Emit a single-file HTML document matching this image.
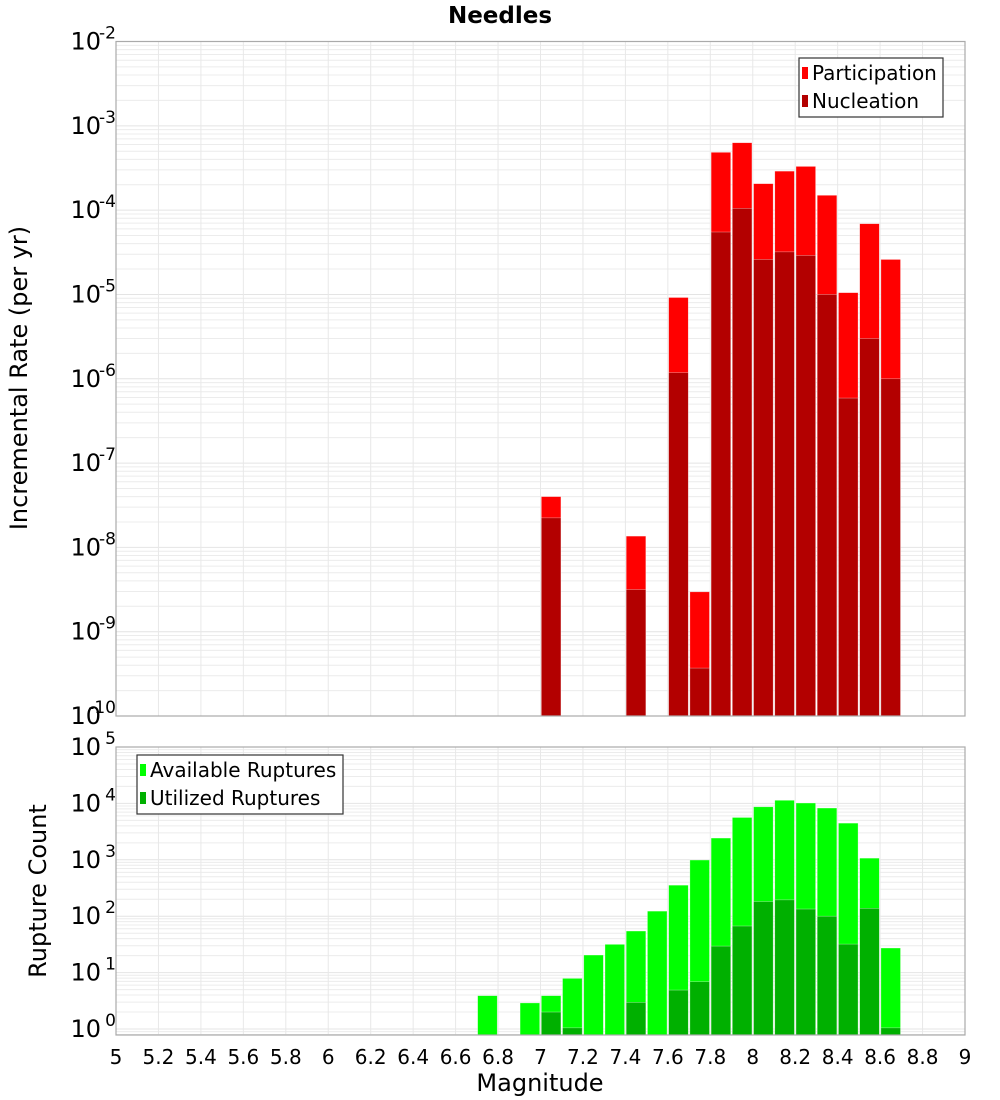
<!DOCTYPE html>
<html><head><meta charset="utf-8"><style>
body{margin:0;background:#fff}
svg{display:block;font-family:"DejaVu Sans","Liberation Sans",sans-serif}
</style></head><body>
<svg id="c" width="1000" height="1100" xmlns="http://www.w3.org/2000/svg">
<text x="500" y="23" text-anchor="middle" font-weight="bold" font-size="23">Needles</text>
</svg>
<script>
const bins=[7.05,7.45,7.65,7.75,7.85,7.95,8.05,8.15,8.25,8.35,8.45,8.55,8.65];
const participation=[4e-8,1.36e-8,9.2e-6,2.97e-9,4.85e-4,6.3e-4,2.06e-4,2.9e-4,3.3e-4,1.5e-4,1.05e-5,6.9e-5,2.6e-5];
const nucleation=[2.24e-8,3.16e-9,1.18e-6,3.7e-10,5.5e-5,1.05e-4,2.6e-5,3.2e-5,2.9e-5,1e-5,5.9e-7,3.0e-6,1e-6];
const countBins=[6.75,6.95,7.05,7.15,7.25,7.35,7.45,7.55,7.65,7.75,7.85,7.95,8.05,8.15,8.25,8.35,8.45,8.55,8.65];
const available=[3.9,2.9,3.9,7.9,20.5,31.7,54.6,123,355,991,2430,5630,8700,11360,10160,8280,4470,1070,27.3];
const utilized=[0,0,2,1.05,0,0,2.97,0,4.9,6.9,29.5,67,182,195,134,100,32,138,1.05];
const xTicks=["5","5.2","5.4","5.6","5.8","6","6.2","6.4","6.6","6.8","7","7.2","7.4","7.6","7.8","8","8.2","8.4","8.6","8.8","9"];
const topDecades=[-2,-3,-4,-5,-6,-7,-8,-9,-10];
const botDecades=[5,4,3,2,1,0];

const NS="http://www.w3.org/2000/svg";
const svg=document.getElementById('c');
function el(t,a,p){const e=document.createElementNS(NS,t);for(const k in a)e.setAttribute(k,a[k]);(p||svg).appendChild(e);return e;}
const X0=116,X1=965;
const xs=m=>X0+(m-5)/4*(X1-X0);
const T={top:41.5,bot:716,lmax:-2,lmin:-10};
const B={top:747,bot:1035,lmax:5,lmin:-0.106};
function ys(P,v){const l=Math.log10(v);return P.top+(P.lmax-l)/(P.lmax-P.lmin)*(P.bot-P.top);}

function panel(P,name){
  const g=el('g',{});
  
  
  for(let d=Math.floor(P.lmin);d<P.lmax;d++){
    for(let k=1;k<10;k++){
      const v=k*Math.pow(10,d);const y=ys(P,v);
      if(y<P.top-0.5||y>P.bot+0.5)continue;
      el('line',{x1:X0,x2:X1,y1:y,y2:y,stroke:k==1?'#e4e4e4':'#ececec','stroke-width':1},g);
    }
  }
  xTicks.forEach(t=>{const x=xs(+t);el('line',{x1:x,x2:x,y1:P.top,y2:P.bot,stroke:'#e8e8e8','stroke-width':1},g);});
}
panel(T,'top');panel(B,'bottom');

function bars(P,cats,vals,color,name){
  cats.forEach((m,i)=>{
    if(!(vals[i]>0))return;
    const x=xs(m)-9.8,y=ys(P,vals[i]);
    const r=el('rect',{x:x,y:y,width:19.6,height:P.bot-y,fill:color,stroke:'#fff','stroke-opacity':0.5,'stroke-width':0.6});
    
    
  });
}
bars(T,bins,participation,'#ff0000','participation');
bars(T,bins,nucleation,'#b30000','nucleation');
bars(B,countBins,available,'#00ff00','available');
bars(B,countBins,utilized,'#00b000','utilized');

[T,B].forEach((P,i)=>{const f=el('rect',{x:X0,y:P.top,width:X1-X0,height:P.bot-P.top,fill:'none',stroke:'#aaa','stroke-width':1.2});
});

function ylabels(P,decs,name){
  decs.forEach(d=>{
    const y=ys(P,Math.pow(10,d));
    const t=el('text',{x:101,y:y+8,'text-anchor':'end','font-size':24});t.textContent='10';
    
    const s=el('text',{x:116,y:y-3,'text-anchor':'end','font-size':17});s.textContent=String(d);
    
  });
}
ylabels(T,topDecades,'top-y');ylabels(B,botDecades,'bottom-y');

xTicks.forEach(t=>{const e=el('text',{x:xs(+t),y:1064,'text-anchor':'middle','font-size':20});e.textContent=t;
});

let e;
e=el('text',{x:0,y:0,transform:'translate(27,378) rotate(-90)','text-anchor':'middle','font-size':24});e.textContent='Incremental Rate (per yr)';

e=el('text',{x:0,y:0,transform:'translate(46,891) rotate(-90)','text-anchor':'middle','font-size':24});e.textContent='Rupture Count';

e=el('text',{x:540,y:1091,'text-anchor':'middle','font-size':24});e.textContent='Magnitude';


function legend(x,y,w,items,name){
  const g=el('g',{});
  el('rect',{x:x,y:y,width:w,height:59,fill:'#fff',stroke:'#333','stroke-width':1.2},g);
  items.forEach((it,i)=>{
    const cy=y+15+i*28;
    el('rect',{x:x+3,y:cy-6,width:6,height:12,fill:it[1]},g);
    const t=el('text',{x:x+13,y:cy+7,'font-size':20},g);t.textContent=it[0];
    
  });
}
legend(799,58,144,[['Participation','#ff0000'],['Nucleation','#b30000']],'top-legend');
legend(137,755,206,[['Available Ruptures','#00ff00'],['Utilized Ruptures','#00b000']],'bottom-legend');
</script>
</body></html>
